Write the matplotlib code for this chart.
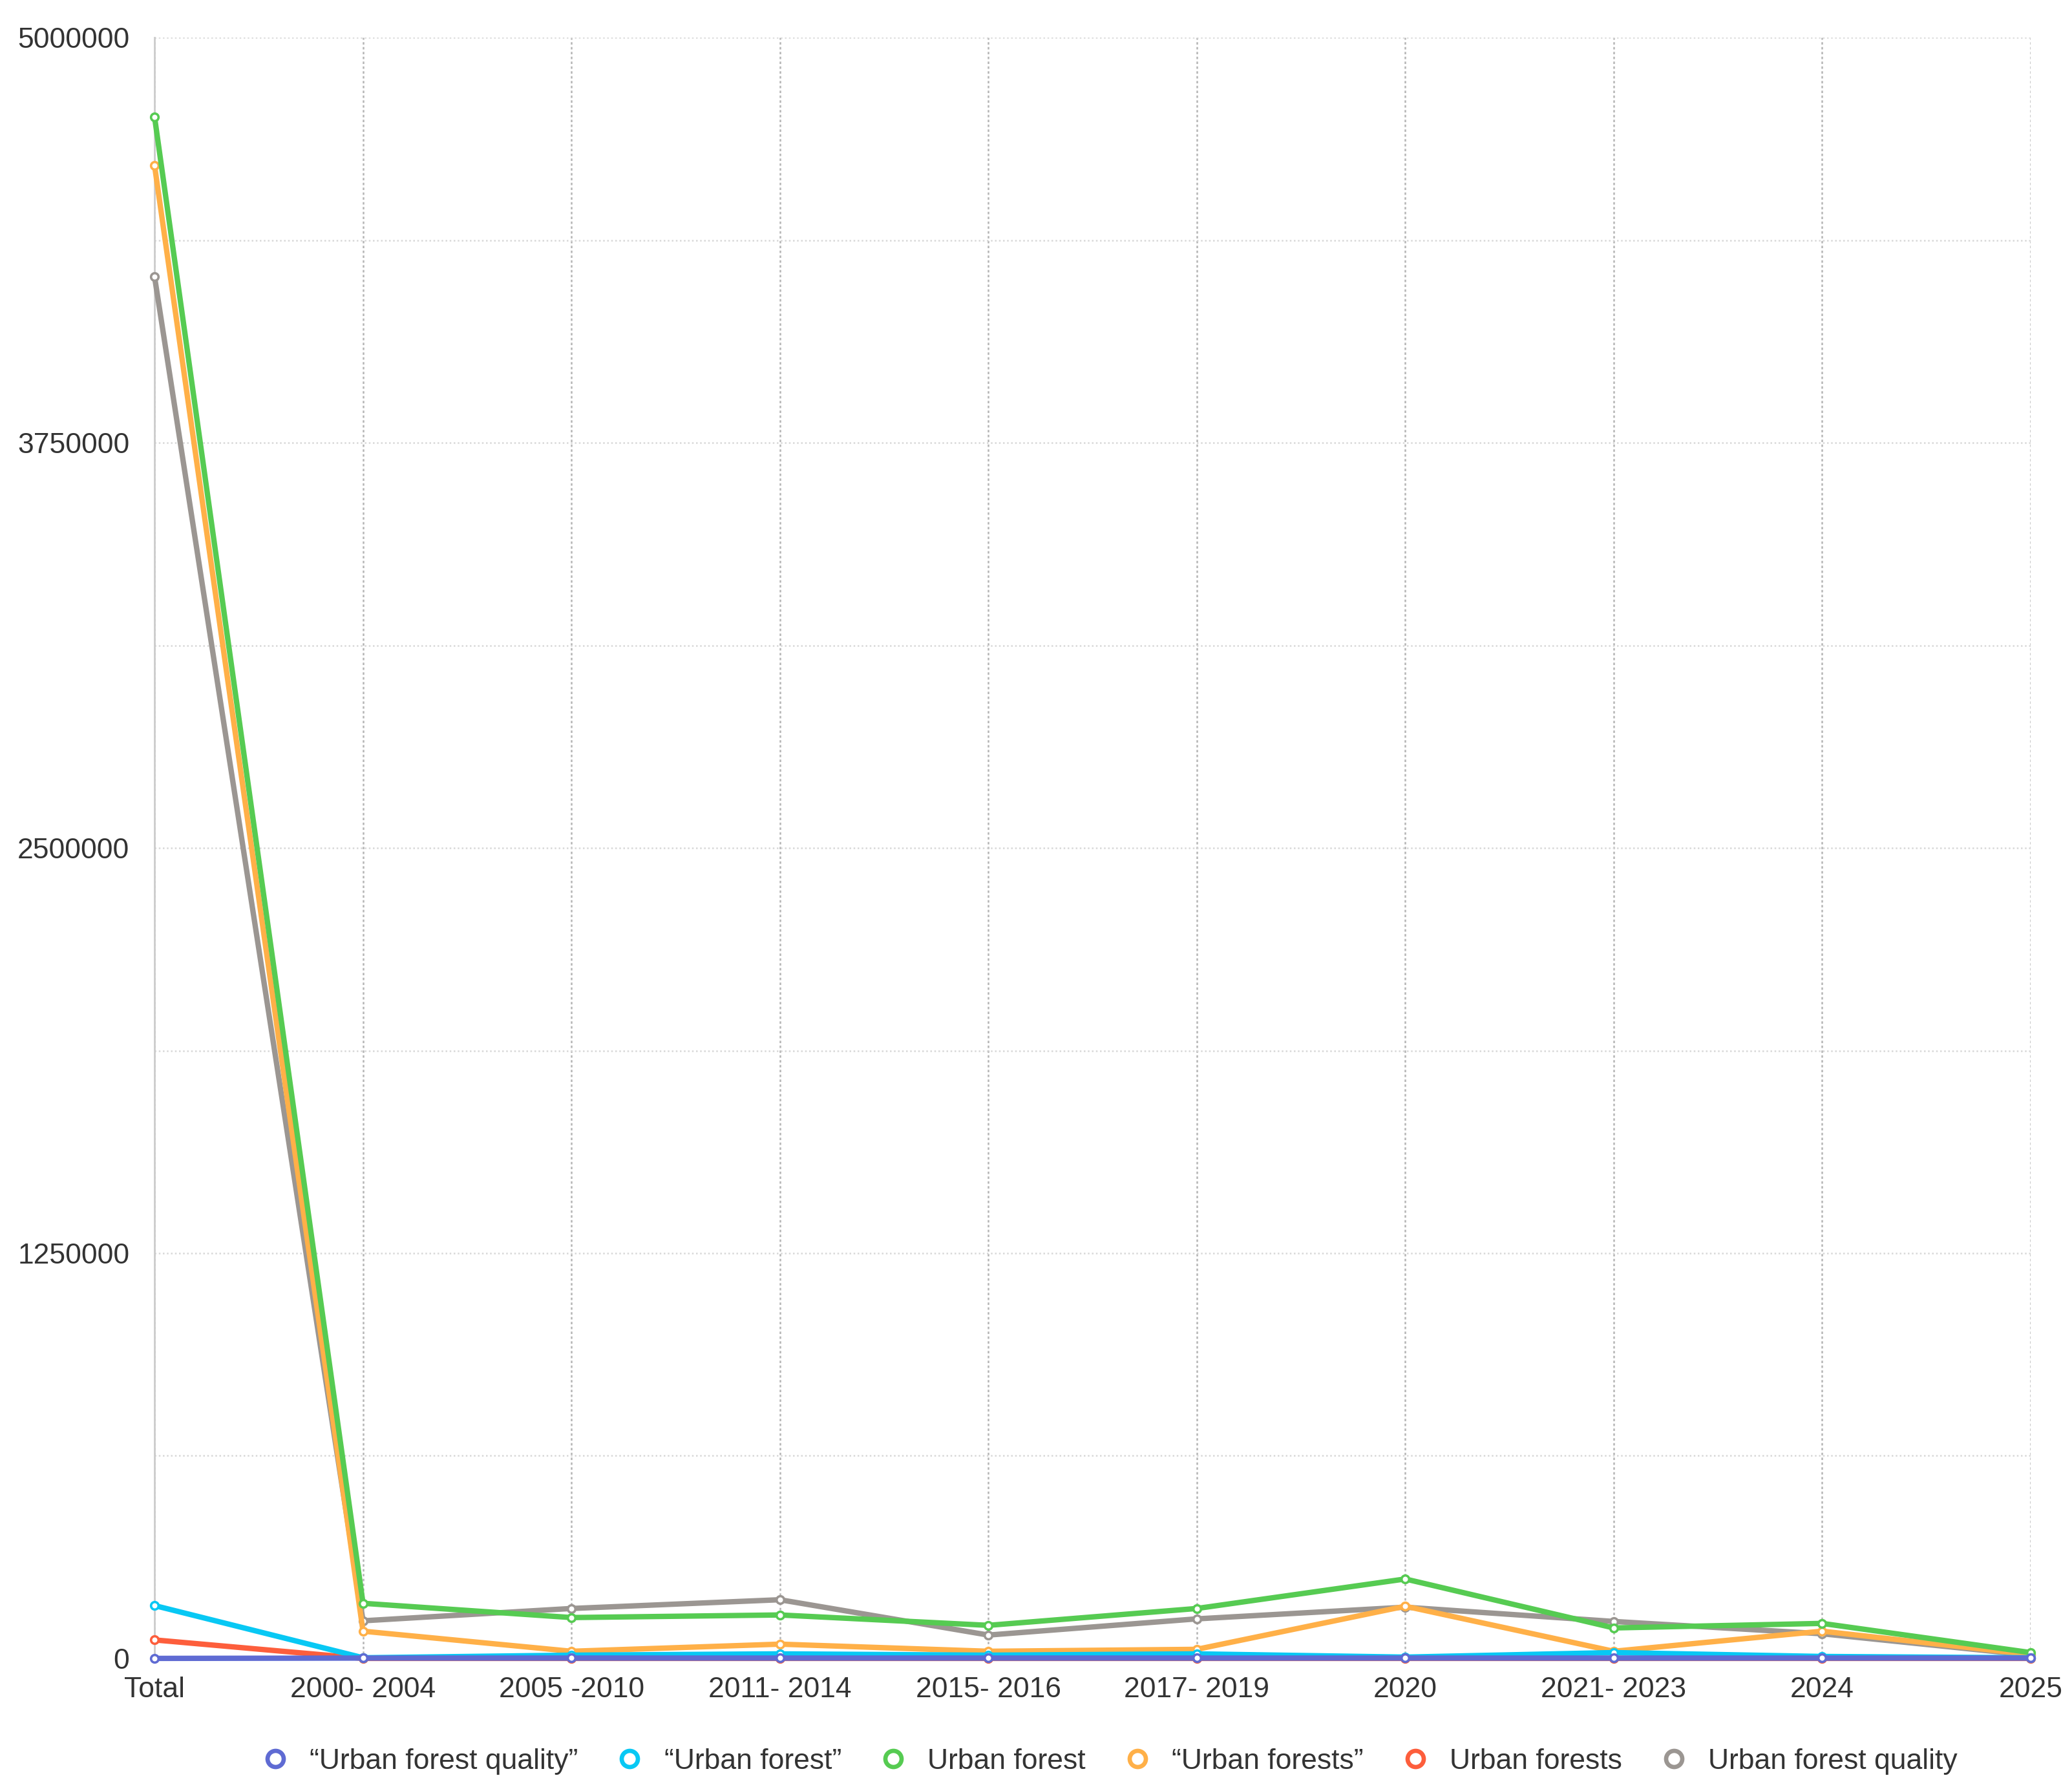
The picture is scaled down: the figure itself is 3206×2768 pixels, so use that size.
import matplotlib
matplotlib.use("Agg")
import matplotlib.pyplot as plt
from matplotlib.lines import Line2D
from matplotlib.ticker import FixedLocator

categories = ["Total", "2000- 2004", "2005 -2010", "2011- 2014", "2015- 2016",
              "2017- 2019", "2020", "2021- 2023", "2024", "2025"]

uf_quality_q = [0, 1000, 1000, 1000, 1000, 1000, 1000, 1000, 1000, 1000]
urban_forest_q = [163000, 2000, 10000, 14000, 10000, 14000, 4000, 18000, 6000, 2000]
urban_forest = [4755000, 170000, 126000, 134000, 102000, 154000, 245000, 94000, 108000, 18000]
urban_forests_q = [4605000, 84000, 22000, 44000, 22000, 28000, 161000, 22000, 84000, 12000]
urban_forests = [57000, 0, 0, 0, 0, 0, 0, 0, 0, 0]
uf_quality = [4262000, 116000, 154000, 181000, 72000, 122000, 158000, 114000, 76000, 10000]

series = [
    ("\u201cUrban forest quality\u201d", uf_quality_q, "#5f6bd3", 6),
    ("\u201cUrban forest\u201d", urban_forest_q, "#08c8f4", 5),
    ("Urban forest", urban_forest, "#56cb52", 4),
    ("\u201cUrban forests\u201d", urban_forests_q, "#ffb048", 3),
    ("Urban forests", urban_forests, "#fd5e3c", 2),
    ("Urban forest quality", uf_quality, "#9b9692", 1),
]

y_ticks = [0, 1250000, 2500000, 3750000, 5000000]
y_grid = [625000, 1875000, 3125000, 4375000]

plt.rcParams['font.family'] = ['Liberation Sans', 'DejaVu Sans']

fig = plt.figure(figsize=(16.03, 13.84), dpi=200)
ax = fig.add_axes([0.0746, 0.073, 0.9054, 0.906])

x = list(range(len(categories)))
for name, vals, color, z in series:
    ax.plot(x, vals, color=color, lw=3.0, zorder=z + 2, marker='o', markersize=4.2,
            markerfacecolor='white', markeredgecolor=color, markeredgewidth=1.3,
            solid_joinstyle='round', clip_on=False)

ax.set_xlim(0, len(categories) - 1)
ax.set_ylim(0, 5000000)
ax.set_xticks(x)
ax.set_xticklabels(categories)
ax.set_yticks(y_ticks)
ax.set_yticklabels([str(v) for v in y_ticks])
ax.yaxis.set_minor_locator(FixedLocator(y_grid))
ax.tick_params(axis='both', length=0, labelsize=16, colors='#333333')
ax.tick_params(axis='y', which='minor', length=0)
ax.tick_params(axis='x', pad=10)
ax.tick_params(axis='y', pad=14)

ax.grid(axis='y', which='both', color='#d8d8d8', linestyle=(0, (1, 1.5)), lw=0.9, zorder=0)
ax.grid(axis='x', which='major', color='#b5b5b5', linestyle=(0, (1.5, 1.5)), lw=0.9, zorder=0)

for s in ['top', 'right', 'bottom']:
    ax.spines[s].set_visible(False)
ax.spines['left'].set_color('#cccccc')
ax.spines['left'].set_linewidth(1.0)

handles = [Line2D([], [], linestyle='none', marker='o', markersize=9,
                  markerfacecolor='white', markeredgecolor=c, markeredgewidth=2.4)
           for _, _, c, _ in series]
labels = [n for n, _, _, _ in series]
fig.legend(handles, labels, loc='center', bbox_to_anchor=(0.5346, 0.0155), ncol=6,
           frameon=False, fontsize=16, handletextpad=0.6, columnspacing=1.2,
           handlelength=1.2, labelcolor='#333333')

fig.savefig("out.png", dpi=200, facecolor='white')
